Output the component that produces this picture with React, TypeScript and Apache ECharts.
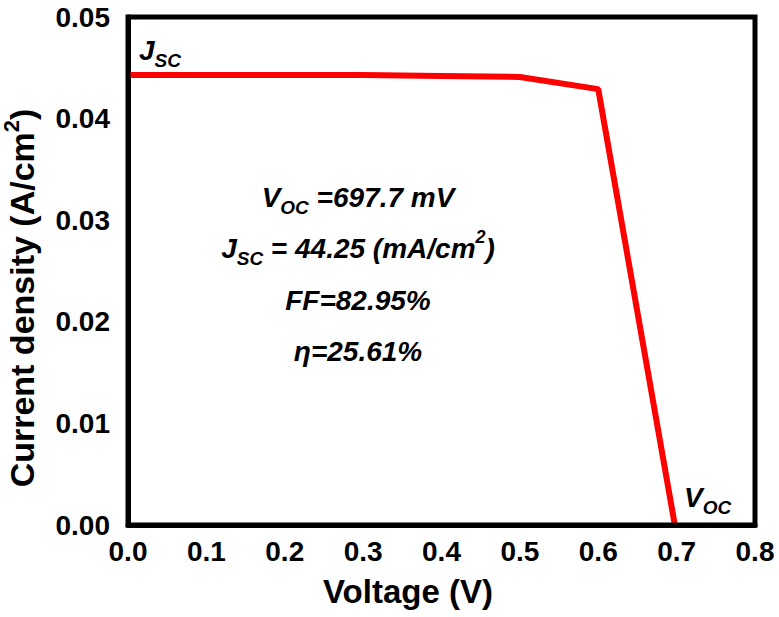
import React, { useEffect, useRef } from "react";
import * as echarts from "echarts";

const voltage = [0.0, 0.1, 0.2, 0.3, 0.4, 0.5, 0.6, 0.6977];
const currentDensity = [0.0443, 0.0443, 0.0443, 0.0443, 0.0442, 0.0441, 0.0429, 0.0];
const xTicks = [0, 0.1, 0.2, 0.3, 0.4, 0.5, 0.6, 0.7, 0.8];
const yTicks = [0, 0.01, 0.02, 0.03, 0.04, 0.05];
const annotations = [
  "{b|V}{s|OC}{b| =697.7 mV}",
  "{b|J}{s|SC}{b| = 44.25 (mA/cm}{u|2}{b|)}",
  "{b|FF=82.95%}",
  "{b|η=25.61%}",
];

const FONT = "'Liberation Sans', Arial, sans-serif";
const NAVY = "#1b1f55";

export default function App() {
  const ref = useRef<HTMLDivElement>(null);
  useEffect(() => {
    if (!ref.current) return;
    const chart = echarts.init(ref.current, null, { renderer: "svg" });
    const richBlack = {
      b: { fontSize: 28, fontWeight: "bold", fontStyle: "italic", fontFamily: FONT, color: "#000", lineHeight: 40, verticalAlign: "middle" },
      s: { fontSize: 19, fontWeight: "bold", fontStyle: "italic", fontFamily: FONT, color: "#000", lineHeight: 26, verticalAlign: "bottom" },
      u: { fontSize: 18, fontWeight: "bold", fontStyle: "italic", fontFamily: FONT, color: "#000", lineHeight: 30, verticalAlign: "top" },
    };
    const richNavy = {
      b: { ...richBlack.b, color: NAVY },
      s: { ...richBlack.s, color: NAVY },
    };
    const titleRich = {
      t: { fontSize: 34, fontWeight: "bold", fontFamily: FONT, color: "#000", lineHeight: 44, verticalAlign: "middle" },
      u: { fontSize: 22, fontWeight: "bold", fontFamily: FONT, color: "#000", lineHeight: 34, verticalAlign: "top" },
    };
    const annY = [197, 248, 300, 351];
    chart.setOption({
      animation: false,
      backgroundColor: "#fff",
      grid: { left: 128, right: 24, top: 17, bottom: 92, show: false },
      xAxis: {
        type: "value",
        min: 0,
        max: 0.8,
        interval: 0.1,
        axisLine: { show: true, onZero: false, lineStyle: { color: "#000", width: 5 } },
        axisTick: { show: false },
        splitLine: { show: false },
        axisLabel: {
          margin: 12,
          fontSize: 28,
          fontWeight: "bold",
          fontFamily: FONT,
          color: "#000",
          formatter: (v: number) => v.toFixed(1),
        },
      },
      yAxis: {
        type: "value",
        min: 0,
        max: 0.05,
        interval: 0.01,
        axisLine: { show: true, onZero: false, lineStyle: { color: "#000", width: 5 } },
        axisTick: { show: false },
        splitLine: { show: false },
        axisLabel: {
          margin: 18,
          fontSize: 28,
          fontWeight: "bold",
          fontFamily: FONT,
          color: "#000",
          formatter: (v: number) => v.toFixed(2),
        },
      },
      series: [
        {
          type: "line",
          data: voltage.map((v, i) => [v, currentDensity[i]]),
          showSymbol: false,
          lineStyle: { color: "#ff0000", width: 6 },
          itemStyle: { color: "#ff0000" },
        },
      ],
      graphic: [
        {
          type: "rect",
          shape: { x: 128, y: 17, width: 627, height: 508 },
          style: { fill: "none", stroke: "#000", lineWidth: 5 },
          z: 10,
          silent: true,
        },
        {
          type: "text",
          x: 408,
          y: 591,
          style: {
            text: "Voltage (V)",
            fontSize: 33,
            fontWeight: "bold",
            fontFamily: FONT,
            fill: "#000",
            align: "center",
            verticalAlign: "middle",
          },
        },
        {
          type: "text",
          x: 22,
          y: 298,
          rotation: Math.PI / 2,
          style: {
            text: "{t|Current density (A/cm}{u|2}{t|)}",
            rich: titleRich,
            align: "center",
            verticalAlign: "middle",
          },
        },
        ...annotations.map((a, i) => ({
          type: "text",
          x: 358,
          y: annY[i],
          style: {
            text: a,
            rich: richBlack,
            align: "center",
            verticalAlign: "middle",
          },
        })),
        {
          type: "text",
          x: 139,
          y: 50,
          style: { text: "{b|J}{s|SC}", rich: richNavy, align: "left", verticalAlign: "middle" },
        },
        {
          type: "text",
          x: 684,
          y: 497,
          style: { text: "{b|V}{s|OC}", rich: richNavy, align: "left", verticalAlign: "middle" },
        },
      ],
    });
    return () => chart.dispose();
  }, []);
  return <div ref={ref} style={{ width: 779, height: 617, position: "absolute", left: 0, top: 0 }} />;
}
